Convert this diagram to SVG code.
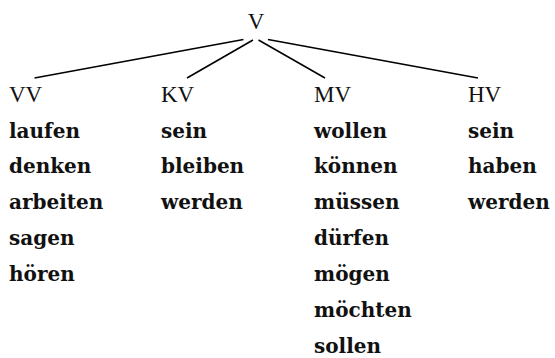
<svg xmlns="http://www.w3.org/2000/svg" width="555" height="358" viewBox="0 0 555 358">
  <style>
    .h { font-family: "Liberation Serif", "Times New Roman", serif; font-size: 23px; fill: #111; }
    .w { font-family: "DejaVu Serif", serif; font-weight: bold; font-size: 20px; fill: #111; }
    .edge { stroke: #000; stroke-width: 1.6; fill: none; stroke-linecap: butt; }
  </style>
  <rect width="555" height="358" fill="#fff"/>
  <g id="connectors">
    <line class="edge" x1="243.5" y1="39.5" x2="34.5" y2="78"/>
    <line class="edge" x1="253" y1="40" x2="187" y2="78"/>
    <line class="edge" x1="258.5" y1="40" x2="325" y2="78"/>
    <line class="edge" x1="268" y1="39.5" x2="478" y2="78"/>
  </g>
  <g id="node-V">
    <text class="h" x="256" y="29" text-anchor="middle">V</text>
  </g>
  <g id="node-VV">
    <text class="h" x="9" y="102">VV</text>
    <text class="w" x="9" y="137.5">laufen</text>
    <text class="w" x="9" y="173.4">denken</text>
    <text class="w" x="9" y="209.3">arbeiten</text>
    <text class="w" x="9" y="245.2">sagen</text>
    <text class="w" x="9" y="281.1">hören</text>
  </g>
  <g id="node-KV">
    <text class="h" x="161" y="102">KV</text>
    <text class="w" x="161" y="137.5">sein</text>
    <text class="w" x="161" y="173.4">bleiben</text>
    <text class="w" x="161" y="209.3">werden</text>
  </g>
  <g id="node-MV">
    <text class="h" x="314" y="102">MV</text>
    <text class="w" x="314" y="137.5">wollen</text>
    <text class="w" x="314" y="173.4">können</text>
    <text class="w" x="314" y="209.3">müssen</text>
    <text class="w" x="314" y="245.2">dürfen</text>
    <text class="w" x="314" y="281.1">mögen</text>
    <text class="w" x="314" y="317">möchten</text>
    <text class="w" x="314" y="352.9">sollen</text>
  </g>
  <g id="node-HV">
    <text class="h" x="468" y="102">HV</text>
    <text class="w" x="468" y="137.5">sein</text>
    <text class="w" x="468" y="173.4">haben</text>
    <text class="w" x="468" y="209.3">werden</text>
  </g>
</svg>
